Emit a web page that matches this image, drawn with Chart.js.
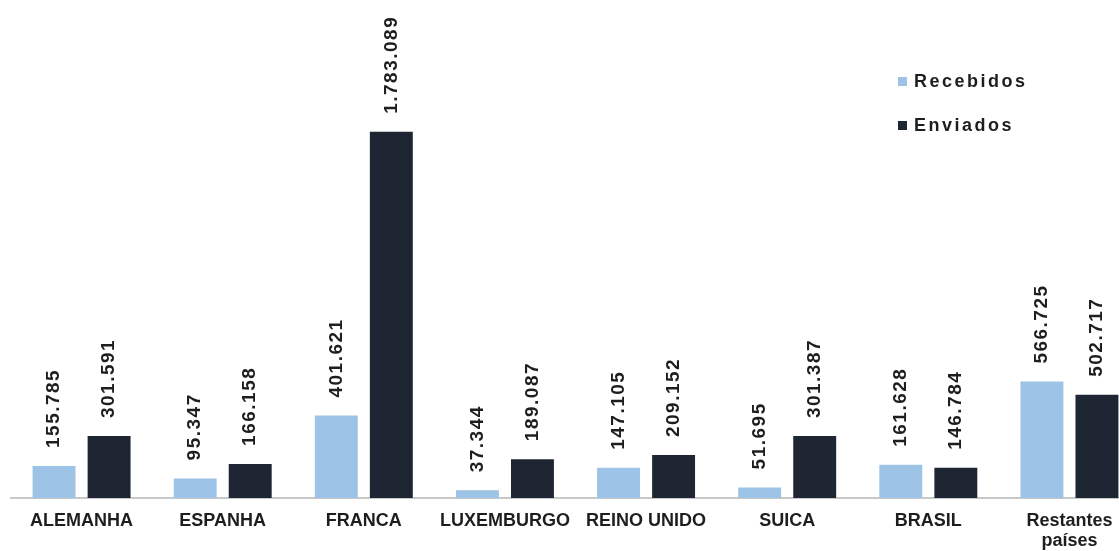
<!DOCTYPE html>
<html>
<head>
<meta charset="utf-8">
<script src="https://cdn.jsdelivr.net/npm/chart.js@4.4.1/dist/chart.umd.min.js"></script>
<style>
  html, body { margin: 0; padding: 0; background: #fff; overflow: hidden; }
  #wrap { position: relative; width: 1140px; height: 551px; }
</style>
</head>
<body>
<div id="wrap"><canvas id="chart"></canvas></div>
<script>
// Data
const categories = ["ALEMANHA", "ESPANHA", "FRANCA", "LUXEMBURGO", "REINO UNIDO", "SUICA", "BRASIL", ["Restantes", "países"]];
const recebidos = [155785, 95347, 401621, 37344, 147105, 51695, 161628, 566725];
const enviados = [301591, 166158, 1783089, 189087, 209152, 301387, 146784, 502717];
const seriesNames = ["Recebidos", "Enviados"];

const COLOR_RECEBIDOS = "#9dc3e6";
const COLOR_ENVIADOS = "#1f2633";
const TEXT_COLOR = "#1e1e1e";
const FONT = "'Liberation Sans', Arial, sans-serif";

// Portuguese-style thousands separator (dots)
function fmt(v) {
  return String(v).replace(/\B(?=(\d{3})+(?!\d))/g, ".");
}

// Rotated value labels above each bar
const valueLabels = {
  id: "valueLabels",
  afterDatasetsDraw(chart) {
    const ctx = chart.ctx;
    chart.data.datasets.forEach((ds, di) => {
      chart.getDatasetMeta(di).data.forEach((bar, i) => {
        ctx.save();
        ctx.translate(bar.x, bar.y - 18);
        ctx.rotate(-Math.PI / 2);
        ctx.font = "bold 19px " + FONT;
        ctx.letterSpacing = "1.5px";
        ctx.fillStyle = TEXT_COLOR;
        ctx.textAlign = "left";
        ctx.textBaseline = "middle";
        ctx.fillText(fmt(ds.data[i]), 0, 0);
        ctx.restore();
      });
    });
  },
};

// Legend in the top-right corner, small square markers
const cornerLegend = {
  id: "cornerLegend",
  afterDraw(chart) {
    const ctx = chart.ctx;
    const colors = [COLOR_RECEBIDOS, COLOR_ENVIADOS];
    const ys = [81, 125];
    ctx.save();
    seriesNames.forEach((name, i) => {
      ctx.fillStyle = colors[i];
      ctx.fillRect(898, ys[i] - 4, 9, 9);
      ctx.font = "bold 18px " + FONT;
      ctx.letterSpacing = "2.5px";
      ctx.fillStyle = TEXT_COLOR;
      ctx.textBaseline = "middle";
      ctx.fillText(name, 914, ys[i] + 1);
    });
    ctx.restore();
  },
};

new Chart(document.getElementById("chart"), {
  type: "bar",
  data: {
    labels: categories,
    datasets: [
      { label: seriesNames[0], data: recebidos, backgroundColor: COLOR_RECEBIDOS },
      { label: seriesNames[1], data: enviados, backgroundColor: COLOR_ENVIADOS },
    ],
  },
  options: {
    responsive: true,
    maintainAspectRatio: false,
    animation: false,
    datasets: { bar: { categoryPercentage: 0.78, barPercentage: 0.78 } },
    layout: { padding: { left: 11, right: 0, top: 0, bottom: 0 } },
    scales: {
      x: {
        grid: { display: false, drawTicks: false },
        border: { display: true, color: "#c8c8c8", width: 2 },
        afterFit: (scale) => { scale.height = 53; },
        ticks: {
          autoSkip: false,
          maxRotation: 0,
          padding: 13,
          color: TEXT_COLOR,
          font: { family: FONT, size: 18, weight: "bold", lineHeight: 1.1 },
        },
      },
      y: { display: false, min: 0, max: 2425000 },
    },
    plugins: { legend: { display: false }, tooltip: { enabled: false } },
  },
  plugins: [valueLabels, cornerLegend],
});
</script>
</body>
</html>
